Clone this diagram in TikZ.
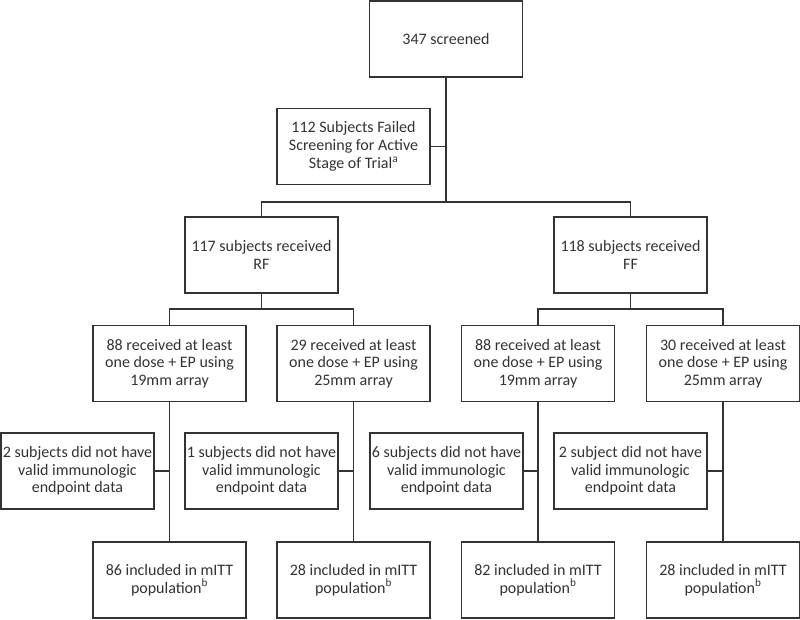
\documentclass[tikz,border=0pt]{standalone}
\usepackage{fontspec}
\setmainfont{Carlito}
\definecolor{ink}{HTML}{333333}
\begin{document}
\begin{tikzpicture}[x=1pt,y=-1pt,
  box/.style={draw=ink, line width=1.5pt, minimum width=153pt, minimum height=76pt,
    inner sep=0pt, align=center, text=ink, font=\fontsize{16}{17.7}\selectfont},
  conn/.style={draw=ink, line width=1.5pt}]
\useasboundingbox[fill=white] (0,0) rectangle (800,619);
\node[box] (top) at (446,39) {347 screened};
\node[box] (fail) at (353.5,146.5) {112 Subjects Failed\\Screening for Active\\Stage of Trial\textsuperscript{a}};
\node[box] (rf) at (261.5,255) {117 subjects received\\RF};
\node[box] (ff) at (630.5,255) {118 subjects received\\FF};
\node[box] (a1) at (169.5,363.5) {88 received at least\\one dose + EP using\\19mm array};
\node[box] (a2) at (353.5,363.5) {29 received at least\\one dose + EP using\\25mm array};
\node[box] (a3) at (538,363.5) {88 received at least\\one dose + EP using\\19mm array};
\node[box] (a4) at (723,363.5) {30 received at least\\one dose + EP using\\25mm array};
\node[box] (s1) at (77.5,471) {2 subjects did not have\\valid immunologic\\endpoint data};
\node[box] (s2) at (261.5,471) {1 subjects did not have\\valid immunologic\\endpoint data};
\node[box] (s3) at (446.5,471) {6 subjects did not have\\valid immunologic\\endpoint data};
\node[box] (s4) at (630.5,471) {2 subject did not have\\valid immunologic\\endpoint data};
\node[box] (b1) at (169.5,580) {86 included in mITT\\population\textsuperscript{b}};
\node[box] (b2) at (353.5,580) {28 included in mITT\\population\textsuperscript{b}};
\node[box] (b3) at (538,580) {82 included in mITT\\population\textsuperscript{b}};
\node[box] (b4) at (723,580) {28 included in mITT\\population\textsuperscript{b}};
\coordinate (j1) at (446,202);
\coordinate (j2) at (261.5,309);
\coordinate (j3) at (630.5,309);
\draw[conn] (top.south) -- (j1);
\draw[conn] (fail.east) -- (fail.east -| top.south);
\draw[conn] (rf.north) |- (j1) -| (ff.north);
\draw[conn] (rf.south) -- (j2);
\draw[conn] (a1.north) |- (j2) -| (a2.north);
\draw[conn] (ff.south) -- (j3);
\draw[conn] (a3.north) |- (j3) -| (a4.north);
\draw[conn] (a1.south) -- (b1.north);
\draw[conn] (a2.south) -- (b2.north);
\draw[conn] (a3.south) -- (b3.north);
\draw[conn] (a4.south) -- (b4.north);
\draw[conn] (s1.east) -- (s1.east -| a1.south);
\draw[conn] (s2.east) -- (s2.east -| a2.south);
\draw[conn] (s3.east) -- (s3.east -| a3.south);
\draw[conn] (s4.east) -- (s4.east -| a4.south);
\end{tikzpicture}
\end{document}
